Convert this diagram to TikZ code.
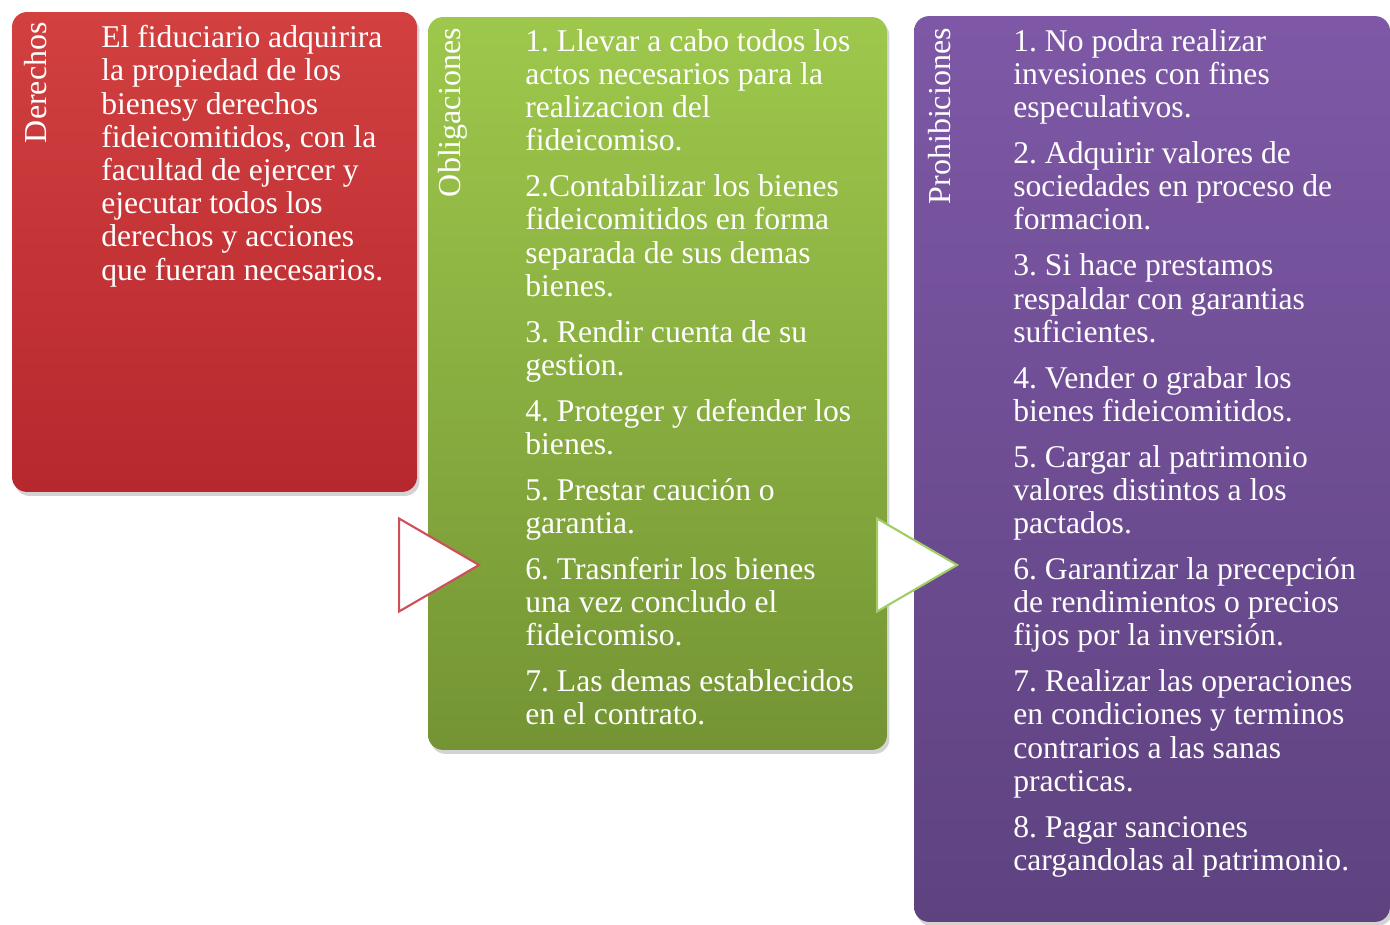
\documentclass[tikz,border=0pt]{standalone}
\usepackage{fontspec}
\setmainfont{Liberation Serif}
\usetikzlibrary{shapes.geometric,shadows}
\definecolor{derTop}{RGB}{210,64,64}
\definecolor{derBot}{RGB}{182,40,46}
\definecolor{oblTop}{RGB}{158,200,76}
\definecolor{oblBot}{RGB}{116,148,52}
\definecolor{proTop}{RGB}{126,88,166}
\definecolor{proBot}{RGB}{94,66,128}
\definecolor{arrRed}{RGB}{205,80,88}
\definecolor{arrGreen}{RGB}{160,205,100}
\frenchspacing
\begin{document}
\begin{tikzpicture}[x=0.02cm,y=-0.02cm]

		\tikzstyle{panel}=[rectangle,rounded corners=0.3cm,draw=none,
			drop shadow={shadow xshift=0.05cm,shadow yshift=-0.08cm,opacity=0.35}]
		\tikzstyle{heading}=[rotate=90,anchor=east,text=white,inner sep=0pt,
			font=\fontsize{18.2}{20}\selectfont]
		\tikzstyle{body}=[anchor=north west,align=left,text=white,inner sep=0pt,
			font=\fontsize{18}{18.9}\selectfont]
		\tikzstyle{pointer}=[isosceles triangle,isosceles triangle stretches,
			fill=white,line width=1.2pt,inner sep=0pt,anchor=west,
			minimum width=1.86cm,minimum height=1.6cm]

		\useasboundingbox (0,0) rectangle (1390,925);

		\node[panel,top color=derTop,bottom color=derBot,minimum width=8.1cm,minimum height=9.6cm]	(derechos)	at (214.5,252) {};
		\node[panel,top color=oblTop,bottom color=oblBot,minimum width=9.18cm,minimum height=14.66cm]	(obligaciones)	at (657.5,383.5) {};
		\node[panel,top color=proTop,bottom color=proBot,minimum width=9.52cm,minimum height=18.12cm]	(prohibiciones)	at (1152,469) {};

		\node[heading]	(derLbl)	at (36,22)	{Derechos};
		\node[heading]	(oblLbl)	at (453,28)	{Obligaciones};
		\node[heading]	(proLbl)	at (940,28)	{Prohibiciones};

		\node[body]	(derText)	at (101,25)	{El fiduciario adquirira\\la propiedad de los\\bienesy derechos\\fideicomitidos, con la\\facultad de ejercer y\\ejecutar todos los\\derechos y acciones\\que fueran necesarios.};

		\node[body]	(oblText)	at (525,29)	{1. Llevar a cabo todos los\\actos necesarios para la\\realizacion del\\fideicomiso.\\[7.2pt]
			2.Contabilizar los bienes\\fideicomitidos en forma\\separada de sus demas\\bienes.\\[7.2pt]
			3. Rendir cuenta de su\\gestion.\\[7.2pt]
			4. Proteger y defender los\\bienes.\\[7.2pt]
			5. Prestar cauci\'on o\\garantia.\\[7.2pt]
			6. Trasnferir los bienes\\una vez concludo el\\fideicomiso.\\[7.2pt]
			7. Las demas establecidos\\en el contrato.};

		\node[body]	(proText)	at (1013,29)	{1. No podra realizar\\invesiones con fines\\especulativos.\\[7.2pt]
			2. Adquirir valores de\\sociedades en proceso de\\formacion.\\[7.2pt]
			3. Si hace prestamos\\respaldar con garantias\\suficientes.\\[7.2pt]
			4. Vender o grabar los\\bienes fideicomitidos.\\[7.2pt]
			5. Cargar al patrimonio\\valores distintos a los\\pactados.\\[7.2pt]
			6. Garantizar la precepci\'on\\de rendimientos o precios\\fijos por la inversi\'on.\\[7.2pt]
			7. Realizar las operaciones\\en condiciones y terminos\\contrarios a las sanas\\practicas.\\[7.2pt]
			8. Pagar sanciones\\cargandolas al patrimonio.};

		\node[pointer,draw=arrRed]	(flechaA)	at (398,565) {};
		\node[pointer,draw=arrGreen]	(flechaB)	at (876,565) {};

	\end{tikzpicture}
\end{document}
